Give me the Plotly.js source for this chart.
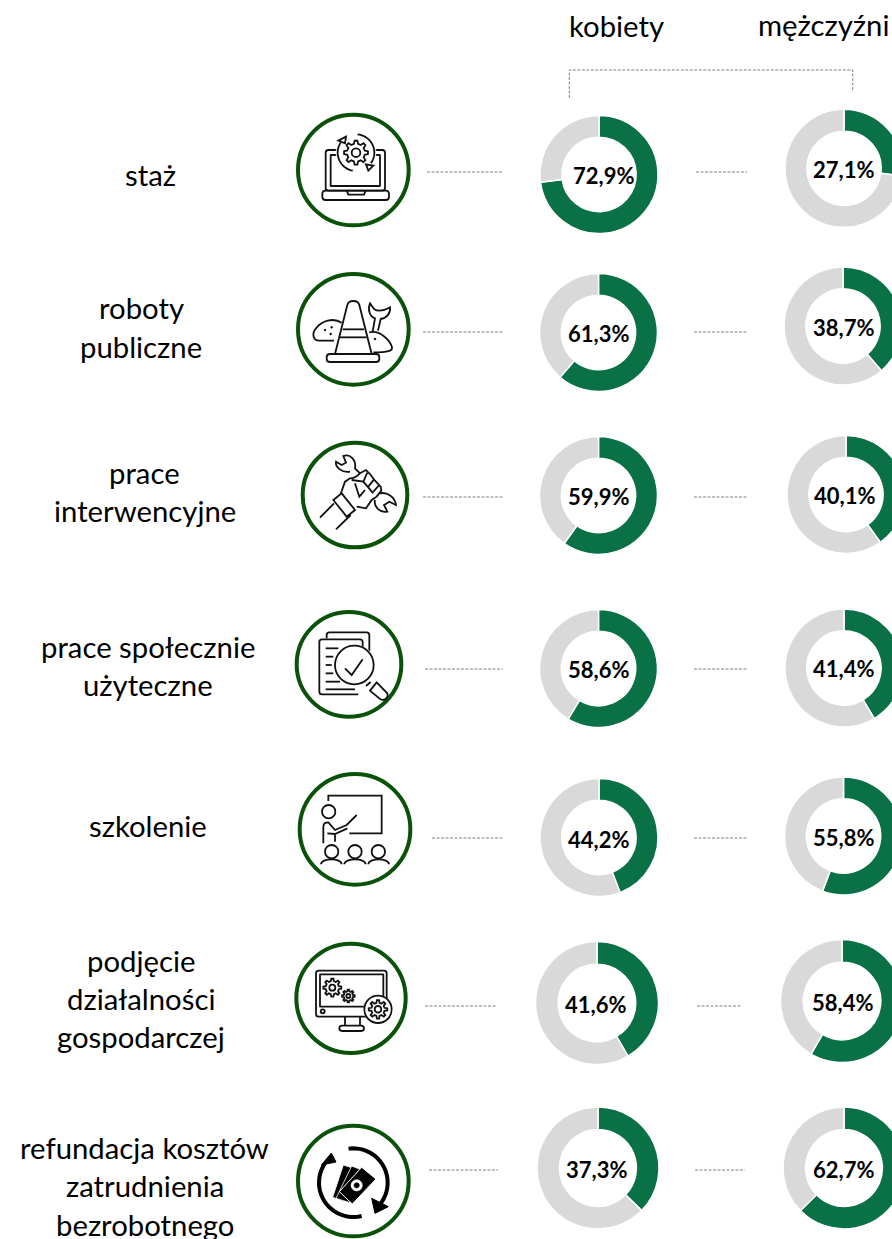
<!DOCTYPE html>
<html><head><meta charset="utf-8">
<script src="https://cdn.plot.ly/plotly-3.0.1.min.js"></script>
<style>html,body{margin:0;padding:0;width:892px;height:1239px;overflow:hidden;background:#fff}</style>
</head><body><div id="chart"></div>
<script>
// ---------- data ----------
const categoryLines = [["staż"],["roboty","publiczne"],["prace","interwencyjne"],["prace społecznie","użyteczne"],["szkolenie"],["podjęcie","działalności","gospodarczej"],["refundacja kosztów","zatrudnienia","bezrobotnego"]];
const women = [72.9,61.3,59.9,58.6,44.2,41.6,37.3];
const men = [27.1,38.7,40.1,41.4,55.8,58.4,62.7];
const groupTitles = ["kobiety","mężczyźni"];

// ---------- layout geometry (pixels) ----------
const W=930,H=1239;
const womenGeo=[[599,174.5,59],[598.5,332.5,59],[598.5,495.5,59],[598.5,668.5,59],[599,837.5,59],[597,1003,61.5],[598,1168,61]];
const menGeo=[[844,168.3,59],[843,326,59],[846,494.5,59],[844,668,59],[843.5,836,59],[842,1001,61.5],[844,1168,61]];
const womenLabel=[[603,175.5],[598,333.5],[598,496.5],[598,669.5],[598,839.5],[595,1004.5],[596,1169.5]];
const menLabel=[[843,169.5],[843,327.5],[844,495.5],[843,668.5],[843,837.5],[842,1002.5],[843,1169.5]];
const labelX=[150,141,144.5,147.5,148,141,144.5];
const labelY=[[174],[307.5,346.5],[472.5,510.5],[646.5,684.5],[825.5],[960.5,998.5,1036.5],[1147.5,1185.5,1224.5]];
const dashRows=[[172,427,503,696,747],[332,423,503,694,748],[497,423,503,694,748],[669,425,503,694,747],[838,432,503,694,748],[1006,425,497,697,741],[1170,429,498,695,745]];
const GREEN='#0A7046',GREY='#D9D9D9',RING='#0A520A',INK='#111111',DASH='#808080';

const traces=[{x:[0,W],y:[0,H],type:'scatter',mode:'none',hoverinfo:'skip',showlegend:false}];
function pie(v,g){const[cx,cy,r]=g;return{type:'pie',values:[v,100-v],sort:false,direction:'clockwise',rotation:0,hole:0.63,
 textinfo:'none',hoverinfo:'skip',showlegend:false,
 marker:{colors:[GREEN,GREY],line:{color:'#fff',width:1.5}},
 domain:{x:[(cx-r)/W,(cx+r)/W],y:[1-(cy+r)/H,1-(cy-r)/H]}};}
women.forEach((v,i)=>traces.push(pie(v,womenGeo[i])));
men.forEach((v,i)=>traces.push(pie(v,menGeo[i])));

// ---------- annotations ----------
const ann=[];
const txt=(t,x,y,size,bold)=>ann.push({text:bold?'<b>'+t+'</b>':t,x,y,xref:'x',yref:'y',showarrow:false,xanchor:'center',yanchor:'middle',
  font:{family:'Lato, sans-serif',size,color:'#000'}});
const fmt=v=>v.toFixed(1).replace('.',',')+'%';
txt(groupTitles[0],616.5,25.5,29.3);txt(groupTitles[1],824,24.5,29.3);
categoryLines.forEach((ls,i)=>ls.forEach((l,j)=>txt(l,labelX[i],labelY[i][j],29.3)));
women.forEach((v,i)=>txt(fmt(v),womenLabel[i][0],womenLabel[i][1],22,true));
men.forEach((v,i)=>txt(fmt(v),menLabel[i][0],menLabel[i][1],22,true));

// ---------- shapes ----------
const shapes=[];
const dash=(d)=>shapes.push({type:'path',xref:'x',yref:'y',path:d,line:{color:DASH,width:1,dash:'3px,1.5px'},fillcolor:'rgba(0,0,0,0)'});
dash('M569.3 98 L569.3 70 L852.7 70 L852.7 91.7');
dashRows.forEach(r=>{dash(`M${r[1]} ${r[0]} L${r[2]} ${r[0]}`);dash(`M${r[3]} ${r[0]} L${r[4]} ${r[0]}`);});

const circle=(c,d,r)=>{const k=r*0.5523;return `M${c-r} ${d} C${c-r} ${d-k} ${c-k} ${d-r} ${c} ${d-r} C${c+k} ${d-r} ${c+r} ${d-k} ${c+r} ${d} C${c+r} ${d+k} ${c+k} ${d+r} ${c} ${d+r} C${c-k} ${d+r} ${c-r} ${d+k} ${c-r} ${d} Z`;};
const rr=(a,b,c,d,r)=>`M${a+r} ${b} L${c-r} ${b} Q${c} ${b} ${c} ${b+r} L${c} ${d-r} Q${c} ${d} ${c-r} ${d} L${a+r} ${d} Q${a} ${d} ${a} ${d-r} L${a} ${b+r} Q${a} ${b} ${a+r} ${b} Z`;
const gear=(cx,cy,ro,ri,n)=>{let p=[];for(let i=0;i<n;i++){const s=2*Math.PI/n,a=i*s;
 [[-.30,ri],[-.15,ro],[.15,ro],[.30,ri]].forEach(([f,r])=>{p.push([cx+r*Math.cos(a+f*s),cy+r*Math.sin(a+f*s)]);});}
 return 'M'+p.map(q=>q[0].toFixed(1)+' '+q[1].toFixed(1)).join(' L')+' Z';};
const arc=(cx,cy,r,a0,a1)=>{let p=[];for(let a=a0;a<=a1;a+=6){const t=a*Math.PI/180;p.push((cx+r*Math.cos(t)).toFixed(1)+' '+(cy+r*Math.sin(t)).toFixed(1));}return 'M'+p.join(' L');};
const T=(d,ox,oy)=>d.replace(/(-?\d+\.?\d*) (-?\d+\.?\d*)/g,(m,a,b)=>(ox+a/3).toFixed(2)+' '+(oy+b/3).toFixed(2));
function icon(ox,oy,items){items.forEach(it=>{
 shapes.push({type:'path',xref:'x',yref:'y',layer:'above',path:T(it.d,ox,oy),
  line:{color:it.c||INK,width:it.w===undefined?1.8:it.w},fillcolor:it.f||'rgba(0,0,0,0)'});});}
const ring=(x,y,r)=>({d:circle(x,y,r),c:RING,w:4});
const disc=(x,y,r)=>({d:circle(x,y,r),c:'#fff',w:0.5,f:'#fff'});
const dot=(x,y,r)=>({d:circle(x,y,r),w:0.5,f:INK});

icon(290,100,[ring(190,210,166),
 {d:rr(107,150,285,272,8)},{d:rr(122,165,270,258,1)},{d:rr(97,272,297,300,10)},{d:'M170 272 L175 284 L222 284 L227 272'},
 disc(198,158,60),
 {d:arc(198,158,55,-85,40)},{d:'M228 193 L250 197 L235 212 Z',f:'#fff'},
 {d:arc(198,158,55,100,215)},{d:'M145 122 L168 110 L165 130 Z',f:'#fff'},
 {d:gear(198,158,36,27,8)},{d:circle(198,158,13)}]);
icon(290,100,[ring(190,688,166),
 {d:'M132 722 L88 722 C68 722 65 700 78 685 C95 662 130 652 155 668'},
 dot(105,690,3),dot(125,682,3),dot(122,702,3),
 {d:'M238 697 C270 690 300 720 306 742 C308 752 295 757 250 757'},dot(255,717,3),
 {d:'M248 695 L255 655 C240 650 232 630 240 610 C248 620 250 632 268 632 C285 632 290 628 300 622 C302 640 290 655 272 657 L264 692'},
 {d:'M135 762 L172 615 Q175 603 190 603 Q205 603 208 615 L245 762'},
 {d:'M158 688 L222 688'},{d:'M150 712 L230 712'},{d:rr(110,762,268,786,10)}]);
icon(290,430,[ring(195,195,157)]);
icon(310,450,[
 {d:'M30 203 L72 160'},{d:'M78 238 L122 195'},{d:'M70 150 L95 130 L135 180 L110 200 Z'},
 {d:'M120 65 C95 70 75 50 78 35 L95 45 L108 38 L100 18 C120 10 140 30 135 55 L150 70'},
 {d:'M210 130 C230 125 255 140 258 165 L238 155 L222 165 L232 185 C210 190 190 170 195 150'},
 {d:'M92 132 L105 95 L120 85 Q135 85 150 70 L168 60 L180 72 L195 92 L212 110 L214 122 L200 140 L185 150 L168 175 L140 170'},
 {d:'M160 95 L172 68'},{d:'M175 110 L192 88'},{d:'M190 125 L208 105'},
 {d:'M125 90 L160 95 L190 130'},{d:'M135 100 L148 140 L165 120'}]);
icon(290,430,[ring(177,703,157),
 {d:'M110 625 L110 615 Q110 607 118 607 L230 607 Q238 607 238 615 L238 662'},
 {d:'M218 655 L218 636 Q218 628 210 628 L96 628 Q88 628 88 636 L88 785 Q88 793 96 793 L205 793'},
 {d:'M107 655 L145 655'},{d:'M107 680 L130 680'},{d:'M107 705 L125 705'},{d:'M107 730 L130 730'},{d:'M107 755 L150 755'},{d:'M107 778 L195 778'},
 disc(193,705,60),{d:circle(193,705,58)},{d:'M165 715 L185 735 L218 688'},
 {d:'M228 768 L242 756'},{d:'M240 782 L260 757 L292 790 Q296 800 285 808 Q275 812 268 805 Z'}]);
icon(290,765,[ring(195,193,166),
 {d:'M115 108 L115 92 L275 92 L275 205 L178 205'},{d:circle(116,140,20)},
 {d:'M100 235 L100 185 Q100 172 115 172 L135 195 L170 180 L200 150'},{d:'M112 205 L135 207 L172 190'},{d:'M135 210 L135 230'},
 {d:circle(125,260,20)},{d:circle(195,260,20)},{d:circle(265,260,20)},
 {d:'M93 298 C93 278 155 278 155 298'},{d:'M163 298 C163 278 227 278 227 298'},{d:'M235 298 C235 278 297 278 297 298'}]);
icon(290,765,[ring(183,700,164),
 {d:rr(78,617,290,755,8)},{d:rr(90,628,280,725,1)},{d:circle(98,739,6)},
 {d:'M165 755 L165 782'},{d:'M210 755 L210 782'},{d:rr(148,782,222,798,8)},
 {d:gear(127,668,27,20,8)},{d:circle(127,668,9)},{d:gear(175,693,19,14,8)},{d:circle(175,693,6)},
 disc(264,733,42),{d:circle(264,733,41)},{d:gear(264,733,28,20,8)},{d:circle(264,733,10)}]);
icon(290,1110,[ring(190,213,166),
 {d:arc(190,218,103,-98,50),w:4,c:'#000'},{d:'M245 265 L295 290 L255 310 Z',f:'#000',c:'#000',w:1},
 {d:arc(190,218,103,76,215),w:4,c:'#000'},{d:'M94 165 L138 156 L124 129 Z',f:'#000',c:'#000',w:1},
 {d:'M160 165 L200 178 L165 275 L128 262 Z',f:'#000',c:'#fff',w:.8},
 {d:'M185 168 L228 185 L180 278 L138 265 Z',f:'#000',c:'#fff',w:.8},
 {d:'M215 172 L258 207 L187 282 L148 245 Z',f:'#000',c:'#fff',w:1},
 {d:circle(200,226,17),f:'#fff',c:'#fff',w:.5},{d:circle(200,226,8),f:'#000',c:'#000',w:.5}]);

Plotly.newPlot('chart',traces,{
 width:W,height:H,margin:{l:0,r:0,t:0,b:0,pad:0},paper_bgcolor:'#fff',plot_bgcolor:'#fff',showlegend:false,
 xaxis:{range:[0,W],visible:false,fixedrange:true},yaxis:{range:[H,0],visible:false,fixedrange:true},
 annotations:ann,shapes:shapes},{staticPlot:true,displayModeBar:false});
</script></body></html>
